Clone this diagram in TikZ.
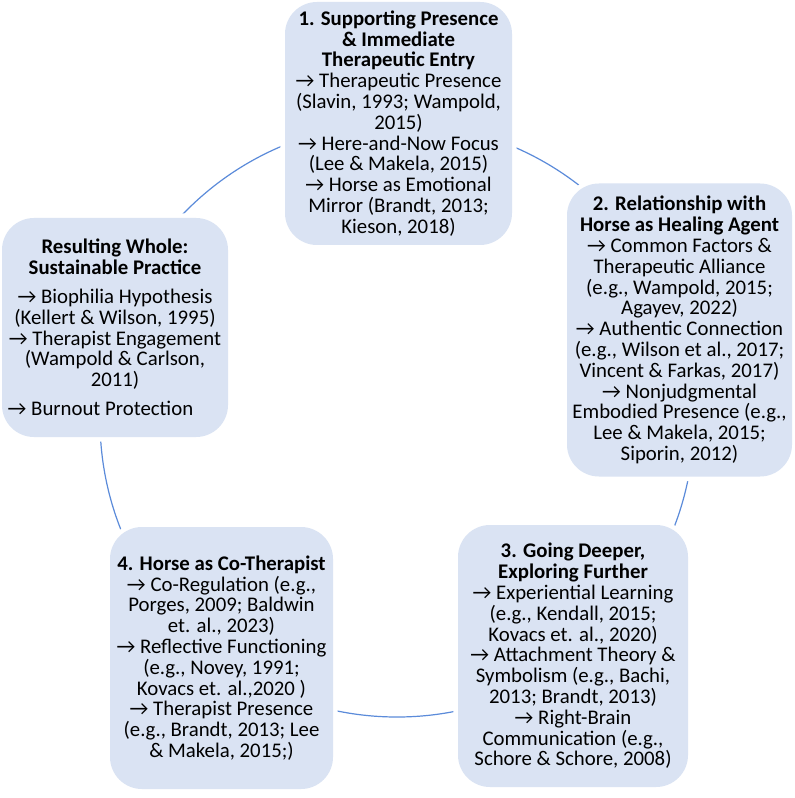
\documentclass[tikz,border=0pt]{standalone}
\usepackage{fontspec}
\setmainfont{Carlito}
\definecolor{stagefill}{RGB}{218,227,243}
\definecolor{ringline}{RGB}{91,139,218}
\tikzset{
  stage/.style={rectangle, rounded corners=24pt, fill=stagefill, inner sep=0pt,
    align=center, preaction={draw=white, line width=7pt},
    font=\fontsize{15.6pt}{15.6pt}\selectfont},
  ring/.style={ringline, line width=0.9pt}
}
\begin{document}
\begin{tikzpicture}[x=0.75pt, y=-0.75pt]

  \useasboundingbox[fill=white] (0,0) rectangle (794,798);

  % The cycle behind the stages
  \coordinate (hub) at (397,420);
  \draw[ring] (hub) circle[radius=222.75pt];

  % 1: top
  \node (entry) at (398.5,123.5) [stage, minimum width=170.25pt, minimum height=182.25pt]
    {\textbf{1. Supporting Presence}\\ \textbf{\& Immediate}\\ \textbf{Therapeutic Entry}\\
     → Therapeutic Presence\\ (Slavin, 1993; Wampold,\\ 2015)\\
     → Here-and-Now Focus\\ (Lee \& Makela, 2015)\\
     → Horse as Emotional\\ Mirror (Brandt, 2013;\\ Kieson, 2018)};

  % 2: right
  \node (agent) at (679.5,330) [stage, minimum width=168.75pt, minimum height=219.75pt]
    {\textbf{2. Relationship with}\\ \textbf{Horse as Healing Agent}\\
     → Common Factors \&\\ Therapeutic Alliance\\ (e.g., Wampold, 2015;\\ Agayev, 2022)\\
     → Authentic Connection\\ (e.g., Wilson et al., 2017;\\ Vincent \& Farkas, 2017)\\
     → Nonjudgmental\\ Embodied Presence (e.g.,\\ Lee \& Makela, 2015;\\ Siporin, 2012)};

  % 3: bottom right
  \node (deeper) at (573,656) [stage, minimum width=172.5pt, minimum height=196.5pt]
    {\textbf{3. Going Deeper,}\\ \textbf{Exploring Further}\\
     → Experiential Learning\\ (e.g., Kendall, 2015;\\ Kovacs et. al., 2020)\\
     → Attachment Theory \&\\ Symbolism (e.g., Bachi,\\ 2013; Brandt, 2013)\\
     → Right-Brain\\ Communication (e.g.,\\ Schore \& Schore, 2008)};

  % 4: bottom left
  \node (cotherapist) at (221.5,658) [stage, minimum width=167.25pt, minimum height=196.5pt]
    {\textbf{4. Horse as Co-Therapist}\\
     → Co-Regulation (e.g.,\\ Porges, 2009; Baldwin\\ et. al., 2023)\\
     → Reflective Functioning\\ (e.g., Novey, 1991;\\ Kovacs et. al.,2020 )\\
     → Therapist Presence\\ (e.g., Brandt, 2013; Lee\\ \& Makela, 2015;)};

  % Resulting whole: left
  \node (whole) at (115,327.5) [stage, minimum width=169.5pt, minimum height=164.25pt]
    {\textbf{Resulting Whole:}\\ \textbf{Sustainable Practice}\\[6pt]
     → Biophilia Hypothesis\\ (Kellert \& Wilson, 1995)\\
     → Therapist Engagement\\ (Wampold \& Carlson,\\ 2011)\\[6pt]
     → Burnout Protection\makebox[1.4em]{}};

\end{tikzpicture}
\end{document}
